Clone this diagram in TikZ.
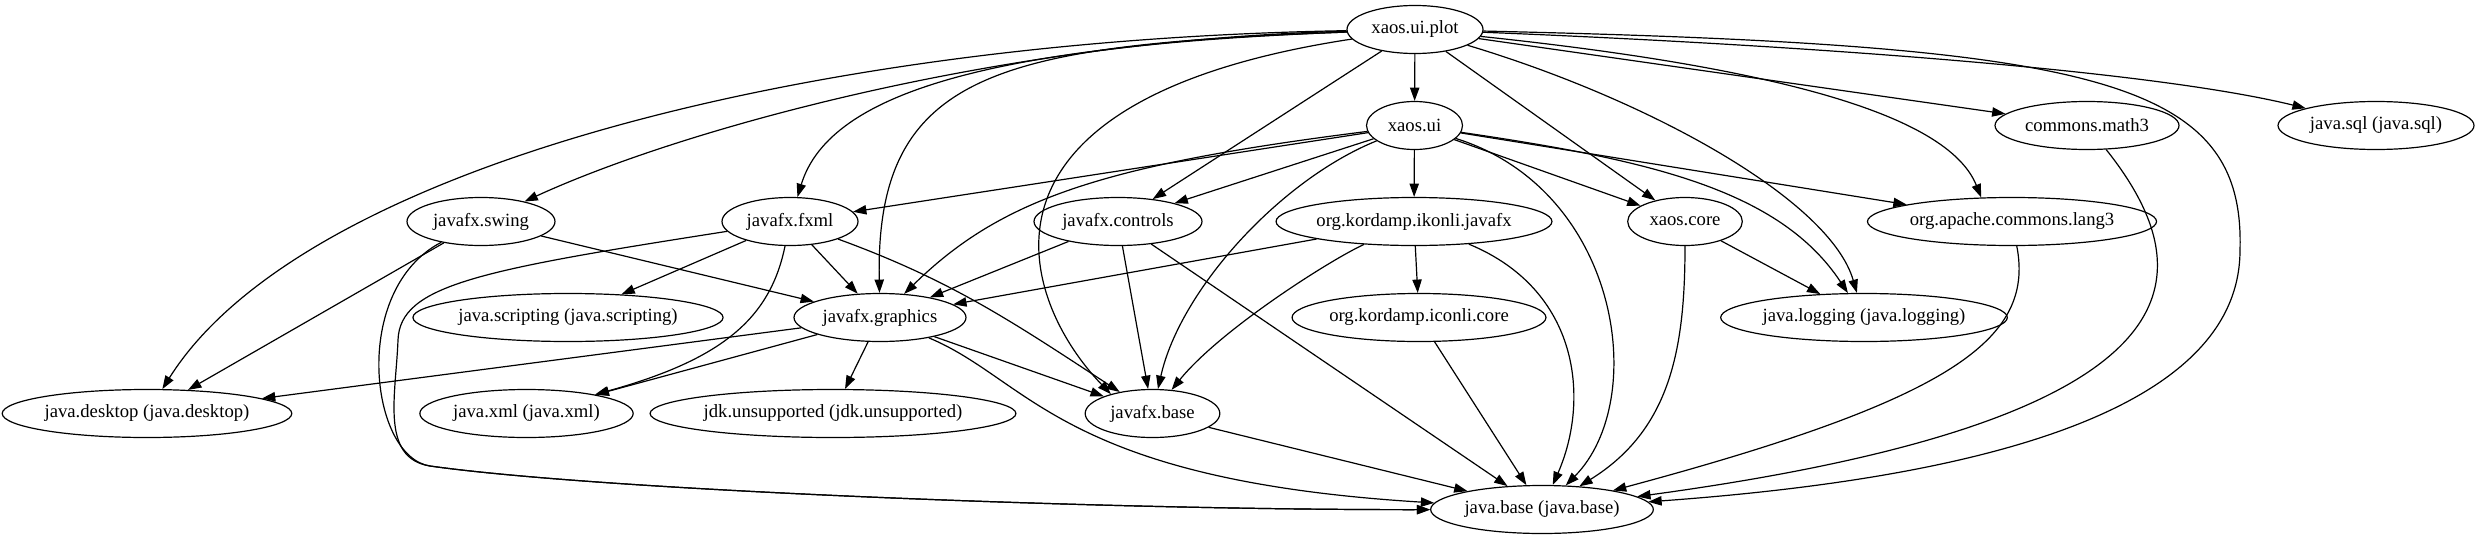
\documentclass[tikz,border=0pt]{standalone}
\usepackage{fontspec}
\setmainfont{Liberation Serif}
\usetikzlibrary{arrows.meta,shapes.geometric}

\begin{document}
\begin{tikzpicture}[x=0.75pt, y=-0.75pt, font=\fontsize{14}{16}\selectfont,
  pkg/.style={ellipse, draw, line width=0.9pt, minimum height=36pt, inner sep=0pt},
  dep/.style={-{Triangle[length=10pt,width=7pt]}, line width=0.9pt}]
\useasboundingbox (0,0) rectangle (2480,539);

\node[pkg, minimum width=102pt] (plot) at (1415,29.5) {xaos.ui.plot};

\node[pkg, minimum width=72pt] (ui) at (1414.5,125.5) {xaos.ui};
\node[pkg, minimum width=138pt] (math) at (2087,125.5) {commons.math3};
\node[pkg, minimum width=147pt] (sql) at (2376,125.5) {java.sql (java.sql)};

\node[pkg, minimum width=111pt] (swing) at (481,221.5) {javafx.swing};
\node[pkg, minimum width=102pt] (fxml) at (790,221.5) {javafx.fxml};
\node[pkg, minimum width=126pt] (controls) at (1118,221.5) {javafx.controls};
\node[pkg, minimum width=205.5pt] (ikonli) at (1414,221.5) {org.kordamp.ikonli.javafx};
\node[pkg, minimum width=86pt] (core) at (1685,221.5) {xaos.core};
\node[pkg, minimum width=214.5pt] (lang) at (2012,221.5) {org.apache.commons.lang3};

\node[pkg, minimum width=228pt] (scripting) at (568,317.5) {java.scripting (java.scripting)};
\node[pkg, minimum width=129pt] (graphics) at (880,317.5) {javafx.graphics};
\node[pkg, minimum width=187.5pt] (iconli) at (1419,317.5) {org.kordamp.iconli.core};
\node[pkg, minimum width=213pt] (logging) at (1864,317.5) {java.logging (java.logging)};

\node[pkg, minimum width=215pt] (desktop) at (147,413.5) {java.desktop (java.desktop)};
\node[pkg, minimum width=160pt] (xml) at (526.5,413.5) {java.xml (java.xml)};
\node[pkg, minimum width=265.5pt] (unsupported) at (833,413.5) {jdk.unsupported (jdk.unsupported)};
\node[pkg, minimum width=101pt] (fxbase) at (1152.5,413.5) {javafx.base};

\node[pkg, minimum width=167pt] (base) at (1542,509.5) {java.base (java.base)};

% xaos.ui.plot
\draw[dep] (plot) .. controls (800,40) and (300,170) .. (desktop);
\draw[dep] (plot) .. controls (1000,40) and (680,130) .. (swing);
\draw[dep] (plot) .. controls (1000,45) and (830,90) .. (fxml);
\draw[dep] (plot) .. controls (1000,45) and (875,70) .. (graphics);
\draw[dep] (plot) .. controls (950,100) and (1020,300) .. (fxbase.155);
\draw[dep] (plot) -- (controls);
\draw[dep] (plot) -- (ui);
\draw[dep] (plot) -- (core);
\draw[dep] (plot) .. controls (1650,100) and (1830,200) .. (logging);
\draw[dep] (plot) .. controls (1800,70) and (1950,120) .. (lang.142);
\draw[dep] (plot) -- (math);
\draw[dep] (plot) .. controls (1800,45) and (2150,70) .. (sql);
\draw[dep] (plot) .. controls (2100,45) and (2245,80) .. (2240,250) .. controls (2240,420) and (1950,480) .. (base);

% xaos.ui
\draw[dep] (ui) -- (fxml);
\draw[dep] (ui) .. controls (1100,165) and (1000,200) .. (graphics);
\draw[dep] (ui) -- (controls);
\draw[dep] (ui) .. controls (1280,180) and (1180,290) .. (fxbase);
\draw[dep] (ui) -- (ikonli);
\draw[dep] (ui) -- (core);
\draw[dep] (ui) .. controls (1650,160) and (1780,190) .. (logging);
\draw[dep] (ui) -- (lang);
\draw[dep] (ui) .. controls (1620,190) and (1650,400) .. (base);

% third row
\draw[dep] (swing) -- (desktop);
\draw[dep] (swing) -- (graphics);
\draw[dep] (swing) .. controls (350,290) and (370,457) .. (430,466) .. controls (600,490) and (1100,510) .. (base);
\draw[dep] (fxml) -- (scripting);
\draw[dep] (fxml) -- (graphics);
\draw[dep] (fxml) .. controls (770,320) and (720,360) .. (xml);
\draw[dep] (fxml) .. controls (950,280) and (1010,320) .. (fxbase);
\draw[dep] (fxml) .. controls (480,270) and (400,285) .. (398,340) .. controls (396,395) and (380,458) .. (430,466) .. controls (600,490) and (1100,510) .. (base);
\draw[dep] (controls) -- (graphics);
\draw[dep] (controls) -- (fxbase);
\draw[dep] (controls) -- (base);
\draw[dep] (ikonli) -- (graphics);
\draw[dep] (ikonli) .. controls (1330,260) and (1220,330) .. (fxbase);
\draw[dep] (ikonli) -- (iconli);
\draw[dep] (ikonli) .. controls (1580,290) and (1590,400) .. (base);
\draw[dep] (core) -- (logging);
\draw[dep] (core) .. controls (1685,350) and (1670,430) .. (base);
\draw[dep] (lang) .. controls (2035,340) and (1950,400) .. (base);
\draw[dep] (math) .. controls (2210,280) and (2200,420) .. (base);

% lower rows
\draw[dep] (graphics) -- (desktop);
\draw[dep] (graphics) -- (xml);
\draw[dep] (graphics) -- (unsupported);
\draw[dep] (graphics) -- (fxbase);
\draw[dep] (graphics) .. controls (1030,380) and (1060,480) .. (base);
\draw[dep] (iconli) -- (base);
\draw[dep] (fxbase) -- (base);
\end{tikzpicture}
\end{document}
